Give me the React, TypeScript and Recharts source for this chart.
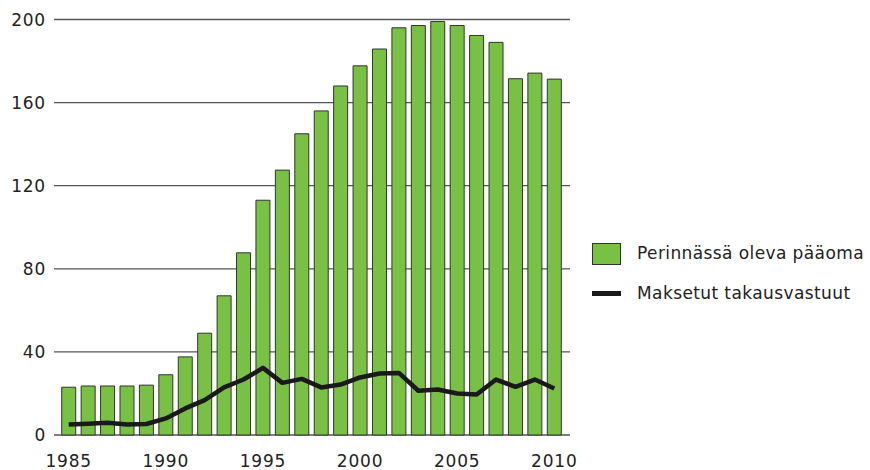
import { ComposedChart, Bar, Line, XAxis, YAxis, CartesianGrid } from 'recharts'

const years = [
  1985, 1986, 1987, 1988, 1989, 1990, 1991, 1992, 1993, 1994, 1995, 1996, 1997,
  1998, 1999, 2000, 2001, 2002, 2003, 2004, 2005, 2006, 2007, 2008, 2009, 2010,
]

// Perinnässä oleva pääoma
const capital = [
  23, 23.6, 23.6, 23.6, 24, 29, 37.6, 49, 67, 87.7, 113, 127.5, 145,
  156, 168, 177.7, 185.8, 196, 197.1, 199, 197.1, 192.3, 189, 171.5, 174.2, 171.3,
]

// Maksetut takausvastuut
const paid = [
  5.1, 5.4, 5.9, 5.1, 5.3, 8, 12.8, 16.8, 22.9, 26.7, 32.3, 25.1, 27,
  22.9, 24.3, 27.7, 29.6, 29.9, 21.3, 21.9, 20, 19.5, 26.7, 23.2, 26.7, 22.4,
]

const yTicks = [0, 40, 80, 120, 160, 200]

const data = years.map((y, i) => ({ year: y, capital: capital[i], paid: paid[i] }))

const font = '"DejaVu Sans", sans-serif'
const green = '#79c143'
const tickStyle = { fontSize: 17, fill: '#222', fontFamily: font, letterSpacing: 0.8 }

export default function App() {
  return (
    <div style={{ position: 'absolute', left: 0, top: 0, width: 870, height: 470, background: '#fff', fontFamily: font }}>
      <ComposedChart
        width={870}
        height={470}
        data={data}
        margin={{ top: 19.5, right: 300, left: 0, bottom: 0 }}
        barCategoryGap="14%"
      >
        <CartesianGrid vertical={false} stroke="#555" strokeWidth={1.3} />
        <XAxis
          dataKey="year"
          interval={4}
          axisLine={false}
          tickLine={false}
          tickSize={0}
          tickMargin={20}
          height={35}
          padding={{ left: 5, right: 6 }}
          tick={tickStyle}
        />
        <YAxis
          domain={[0, 200]}
          ticks={yTicks}
          width={54}
          axisLine={false}
          tickLine={false}
          tickSize={0}
          tickMargin={8}
          tick={tickStyle}
        />
        <Bar dataKey="capital" fill={green} stroke="#333" strokeWidth={1} isAnimationActive={false} />
        <Line
          dataKey="paid"
          stroke="#1a1a1a"
          strokeWidth={4.5}
          dot={false}
          type="linear"
          strokeLinejoin="round"
          isAnimationActive={false}
        />
      </ComposedChart>
      <div style={{ position: 'absolute', left: 592, top: 243, width: 27, height: 20, background: green, border: '1px solid #333' }} />
      <div style={{ position: 'absolute', left: 637, top: 241, fontSize: 17, letterSpacing: 0.4, color: '#222', whiteSpace: 'nowrap', lineHeight: '24px' }}>
        Perinnässä oleva pääoma
      </div>
      <div style={{ position: 'absolute', left: 592, top: 291, width: 29, height: 5, background: '#1a1a1a' }} />
      <div style={{ position: 'absolute', left: 637, top: 281, fontSize: 17, letterSpacing: 0.4, color: '#222', whiteSpace: 'nowrap', lineHeight: '24px' }}>
        Maksetut takausvastuut
      </div>
    </div>
  )
}
